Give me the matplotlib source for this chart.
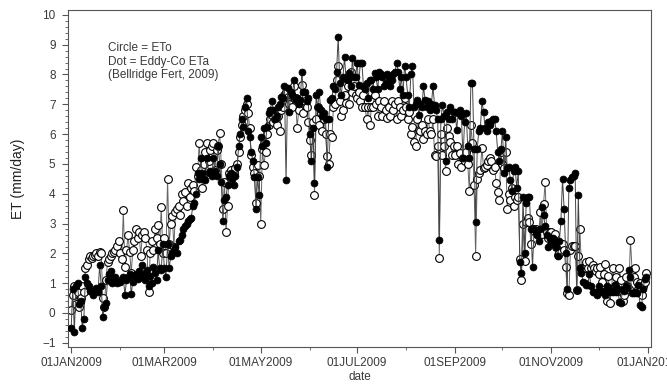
import matplotlib
matplotlib.use("Agg")
import matplotlib.pyplot as plt
import matplotlib.dates as mdates
from matplotlib.ticker import MultipleLocator, FuncFormatter
import numpy as np
import pandas as pd

# daily values for 2009 (mm/day)
eto_jan = [0.1, 0.6, 0.9, 0.3, 0.7, 0.2, 0.5, 0.9, 0.7, 1.5, 1.6, 1.8, 1.9, 1.85, 1.9, 1.95, 2.0, 1.9, 2.05, 2.0,
           0.5, 0.2, 1.1, 1.7, 1.8, 1.9, 2.0, 2.05, 2.1, 2.25, 2.4]
eto_feb = [2.0, 1.8, 3.45, 1.55, 2.1, 2.6, 2.05, 1.35, 2.1, 2.4, 2.8, 2.5, 2.7, 1.9, 2.6, 2.7, 2.5, 2.1, 0.7, 2.0,
           2.4, 2.1, 2.8, 2.5, 2.95, 2.3, 3.55, 2.0]
eto_mar = [2.5, 2.0, 4.5, 2.3, 3.0, 3.25, 2.2, 3.4, 3.5, 3.6, 3.3, 4.0, 3.75, 4.05, 3.6, 4.35, 3.9, 4.2, 4.3, 4.1,
           4.9, 4.6, 5.7, 4.8, 4.2, 5.0, 5.4, 5.7, 5.1, 5.45, 5.6]
eto_apr = [5.7, 4.8, 5.45, 5.6, 6.05, 5.0, 3.5, 4.4, 2.7, 3.6, 4.7, 4.8, 4.6, 4.7, 4.85, 5.0, 5.4, 5.9, 6.3, 6.6,
           6.8, 7.0, 6.7, 6.2, 5.3, 4.9, 4.7, 3.7, 4.95, 4.6]
eto_may = [3.0, 5.5, 4.95, 5.4, 6.0, 6.3, 6.5, 6.65, 6.4, 6.5, 6.3, 6.6, 6.1, 6.8, 6.9, 7.3, 7.4, 7.25, 7.0, 7.3,
           6.9, 7.6, 7.2, 6.2, 6.8, 7.1, 7.65, 6.7, 7.1, 6.9, 6.4]
eto_jun = [5.8, 5.3, 6.4, 3.95, 6.5, 6.9, 6.3, 6.7, 6.1, 6.5, 6.0, 5.25, 5.0, 6.0, 5.9, 6.9, 7.0, 7.8, 8.3, 7.1,
           6.6, 6.8, 7.3, 7.05, 7.6, 7.0, 8.1, 7.4, 7.6, 7.3]
eto_jul = [7.2, 7.4, 7.1, 6.9, 7.3, 6.9, 6.5, 6.9, 6.3, 6.9, 6.9, 7.3, 7.0, 6.6, 7.1, 6.9, 6.6, 7.1, 6.8, 6.55,
           6.9, 6.6, 7.1, 6.8, 7.0, 6.5, 7.1, 6.9, 6.6, 6.8, 7.2]
eto_aug = [6.9, 6.5, 6.75, 6.0, 6.25, 5.75, 5.6, 6.5, 6.15, 6.1, 6.3, 5.85, 6.1, 6.0, 6.5, 6.1, 6.0, 6.5, 5.3, 5.25,
           5.6, 1.85, 6.0, 5.3, 5.6, 4.75, 6.2, 5.95, 5.75, 5.3, 5.6]
eto_sep = [5.3, 5.6, 5.0, 5.35, 4.9, 5.2, 5.1, 5.4, 5.0, 4.1, 6.3, 5.7, 4.3, 1.9, 4.5, 4.7, 4.8, 5.55, 4.85, 4.9,
           4.95, 5.1, 5.2, 5.1, 4.8, 4.9, 4.35, 4.05, 3.8, 5.4]
eto_oct = [5.0, 4.85, 5.4, 3.5, 4.0, 3.8, 4.2, 3.6, 3.9, 3.8, 3.9, 1.8, 1.1, 3.0, 1.75, 3.05, 3.2, 3.05, 2.3, 2.8,
           2.75, 2.8, 2.65, 2.7, 3.4, 2.65, 3.65, 4.4, 2.7, 2.5, 2.7]
eto_nov = [2.7, 2.5, 2.65, 2.2, 1.95, 2.0, 2.3, 2.3, 2.1, 1.55, 0.67, 0.6, 2.1, 2.25, 2.25, 2.25, 0.77, 1.9, 2.8, 1.5,
           1.5, 1.5, 1.7, 1.5, 1.75, 1.5, 1.6, 1.5, 1.4, 1.5]
eto_dec = [1.3, 1.55, 1.05, 1.3, 1.65, 0.4, 1.25, 0.35, 0.8, 1.5, 0.9, 1.2, 0.75, 1.5, 1.1, 0.4, 0.6, 1.2, 0.9, 0.8,
           2.45, 1.45, 1.2, 1.5, 1.05, 0.8, 1.0, 0.6, 0.9, 1.05, 1.33]

eta_jan = [-0.5, 0.8, -0.65, 0.9, 1.0, 0.3, 0.4, -0.5, -0.2, 1.2, 1.0, 0.9, 0.75, 0.7, 0.6, 0.75, 0.85, 0.7, 1.6, 0.9,
           -0.15, 0.2, 0.35, 1.1, 1.3, 1.4, 1.0, 1.1, 1.2, 1.0, 1.05]
eta_feb = [1.05, 1.15, 1.2, 0.6, 1.1, 1.2, 1.3, 0.65, 1.05, 1.25, 1.3, 1.15, 1.4, 1.2, 1.6, 1.3, 1.1, 1.45, 0.9, 1.25,
           1.0, 1.55, 1.35, 1.1, 2.1, 1.5, 1.45, 2.3]
eta_mar = [1.5, 1.2, 2.3, 1.5, 1.9, 2.0, 2.1, 2.2, 2.0, 2.4, 2.45, 2.6, 2.8, 2.9, 3.0, 3.1, 3.15, 3.2, 3.6, 3.7,
           4.0, 4.7, 4.5, 5.2, 4.7, 4.5, 4.45, 5.2, 4.7, 4.75, 4.6]
eta_apr = [5.2, 4.75, 4.6, 5.6, 5.0, 4.4, 3.1, 3.8, 3.9, 4.3, 4.6, 4.7, 4.5, 4.3, 4.6, 4.9, 5.6, 6.0, 6.5, 6.25,
           6.9, 7.2, 6.1, 5.9, 5.4, 5.1, 4.55, 3.5, 4.55, 3.95]
eta_may = [5.9, 5.6, 6.2, 5.7, 6.25, 6.7, 6.8, 7.1, 6.8, 6.5, 6.6, 6.9, 7.0, 7.25, 7.2, 7.6, 4.45, 7.55, 6.75, 7.4,
           7.3, 7.8, 7.15, 7.2, 7.0, 7.15, 8.1, 7.4, 7.4, 7.1, 7.2]
eta_jun = [6.0, 5.1, 6.2, 4.35, 7.3, 6.9, 7.4, 6.8, 6.6, 6.7, 6.5, 4.9, 6.5, 7.15, 7.2, 7.6, 7.5, 8.1, 9.27, 7.7,
           7.3, 7.9, 8.58, 7.85, 7.8, 8.05, 7.6, 8.55, 7.9, 7.9]
eta_jul = [8.4, 7.65, 8.4, 8.4, 7.6, 7.5, 7.7, 7.2, 7.8, 7.8, 7.5, 8.05, 7.9, 7.5, 8.1, 8.0, 7.9, 7.6, 7.7, 8.0,
           7.9, 7.6, 7.8, 8.0, 8.1, 8.4, 8.1, 7.5, 7.9, 7.3, 8.3]
eta_aug = [7.9, 7.3, 6.9, 8.0, 8.3, 6.9, 7.0, 7.15, 6.65, 7.0, 6.9, 7.6, 7.15, 6.9, 7.1, 6.8, 7.0, 7.6, 6.98, 6.8,
           6.5, 2.45, 6.5, 6.98, 6.6, 5.1, 6.75, 6.5, 6.9, 6.5, 6.75]
eta_sep = [6.75, 6.15, 6.7, 6.8, 6.6, 5.2, 6.4, 6.7, 5.6, 5.2, 7.7, 7.7, 5.5, 3.05, 5.5, 6.1, 6.2, 7.1, 6.75, 6.2,
           6.1, 6.4, 6.3, 6.45, 6.5, 6.5, 6.1, 5.4, 5.1, 5.5]
eta_oct = [6.1, 4.7, 5.9, 4.85, 4.9, 4.45, 4.1, 4.75, 4.9, 4.2, 4.75, 1.7, 1.35, 3.9, 2.0, 3.7, 3.9, 3.9, 2.8, 1.55,
           2.8, 2.7, 2.6, 2.4, 2.8, 3.55, 3.3, 2.9, 2.6, 2.2, 2.5]
eta_nov = [2.35, 2.5, 2.4, 2.2, 1.9, 2.4, 3.1, 4.5, 3.5, 2.0, 0.8, 4.2, 4.45, 4.55, 4.6, 4.7, 0.77, 3.95, 1.5, 1.35,
           1.05, 1.0, 0.95, 0.95, 1.3, 0.9, 0.7, 0.7, 0.7, 0.6]
eta_dec = [0.9, 0.7, 0.75, 0.7, 0.6, 0.9, 0.85, 0.7, 0.75, 0.7, 0.95, 0.7, 0.8, 0.37, 0.32, 0.8, 0.75, 0.9, 0.85, 1.45,
           1.2, 0.67, 0.67, 0.7, 0.67, 0.95, 0.27, 0.2, 0.8, 1.15, 1.2]

eto = np.array(eto_jan + eto_feb + eto_mar + eto_apr + eto_may + eto_jun +
               eto_jul + eto_aug + eto_sep + eto_oct + eto_nov + eto_dec)
eta = np.array(eta_jan + eta_feb + eta_mar + eta_apr + eta_may + eta_jun +
               eta_jul + eta_aug + eta_sep + eta_oct + eta_nov + eta_dec)
dates = pd.date_range("2009-01-01", "2009-12-31", freq="D")

plt.rcParams['font.family'] = ['Liberation Sans', 'DejaVu Sans']
txt = '#3a3a3a'

fig = plt.figure(figsize=(6.67, 3.92), dpi=100)
ax = fig.add_axes([0.102, 0.115, 0.874, 0.86])

# open circles = ETo, filled dots = eddy covariance ETa
ax.plot(dates, eto, '-', color='#666666', lw=0.7, marker='o', ms=5.6,
        mfc='white', mec='black', mew=0.8, zorder=2)
ax.plot(dates, eta, '-', color='#444444', lw=0.7, marker='o', ms=5.0,
        mfc='black', mec='black', mew=0.5, zorder=3)

ax.set_xlim(pd.Timestamp("2008-12-30"), pd.Timestamp("2010-01-03"))
ax.set_ylim(-1.14, 10.17)

ax.xaxis.set_major_locator(mdates.MonthLocator(bymonth=[1, 3, 5, 7, 9, 11]))
ax.xaxis.set_minor_locator(mdates.MonthLocator())
ax.xaxis.set_major_formatter(FuncFormatter(lambda v, p: mdates.num2date(v).strftime('%d%b%Y').upper()))
ax.yaxis.set_major_locator(MultipleLocator(1))
ax.yaxis.set_minor_locator(MultipleLocator(0.2))

ax.tick_params(axis='both', which='major', direction='out', length=4, width=0.8,
               colors='#555555', labelcolor=txt, labelsize=8.5)
ax.tick_params(axis='both', which='minor', direction='out', length=2, width=0.6, colors='#555555')
ax.tick_params(axis='x', which='major', pad=3)
ax.tick_params(axis='y', which='major', pad=5)
for s in ax.spines.values():
    s.set_color('#555555')
    s.set_linewidth(0.8)

ax.set_xlabel('date', fontsize=8.5, color=txt, labelpad=2)
ax.set_ylabel('ET (mm/day)', fontsize=10, color='#222222', labelpad=12)

ax.text(0.069, 0.905, 'Circle = ETo\nDot = Eddy-Co ETa\n(Bellridge Fert, 2009)',
        transform=ax.transAxes, fontsize=8.5, color=txt, va='top', ha='left', linespacing=1.2)

fig.savefig('out.png', dpi=100)
